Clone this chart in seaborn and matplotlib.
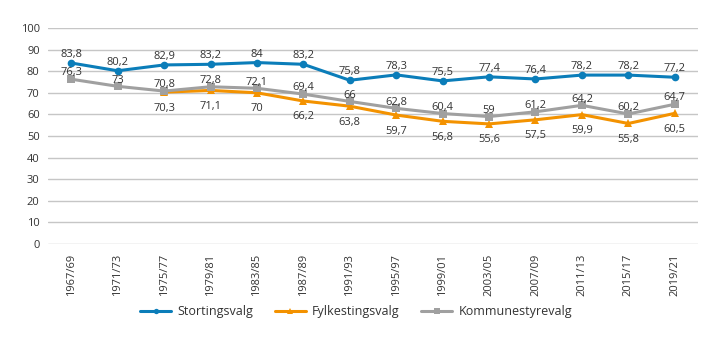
import numpy as np
import pandas as pd
import matplotlib
matplotlib.use("Agg")
import matplotlib.pyplot as plt
import seaborn as sns

periods = ["1967/69", "1971/73", "1975/77", "1979/81", "1983/85", "1987/89", "1991/93",
           "1995/97", "1999/01", "2003/05", "2007/09", "2011/13", "2015/17", "2019/21"]
storting = [83.8, 80.2, 82.9, 83.2, 84, 83.2, 75.8, 78.3, 75.5, 77.4, 76.4, 78.2, 78.2, 77.2]
fylke = [np.nan, np.nan, 70.3, 71.1, 70, 66.2, 63.8, 59.7, 56.8, 55.6, 57.5, 59.9, 55.8, 60.5]
kommune = [76.3, 73, 70.8, 72.8, 72.1, 69.4, 66, 62.8, 60.4, 59, 61.2, 64.2, 60.2, 64.7]

series_names = ["Stortingsvalg", "Fylkestingsvalg", "Kommunestyrevalg"]
colors = ["#0b7db9", "#f39200", "#a0a0a0"]
markers = ["o", "^", "s"]

sns.set_theme(style="white")
plt.rcParams["font.family"] = ["Open Sans", "DejaVu Sans"]

df = pd.DataFrame({"x": np.arange(len(periods)),
                   "Stortingsvalg": storting,
                   "Fylkestingsvalg": fylke,
                   "Kommunestyrevalg": kommune})
long = df.melt(id_vars="x", var_name="serie", value_name="val").dropna()

fig = plt.figure(figsize=(7.19, 3.41), dpi=100)
ax = fig.add_axes([48 / 719, 1 - 244 / 341, 650 / 719, 216 / 341])

sns.lineplot(data=long, x="x", y="val", hue="serie", style="serie",
             hue_order=series_names, style_order=series_names,
             palette=dict(zip(series_names, colors)),
             markers=dict(zip(series_names, markers)), dashes=False,
             linewidth=2.2, markersize=5.5, markeredgewidth=0, ax=ax)

txt_color = "#333333"
fs = 8


def fmt(v):
    return f"{v:g}".replace(".", ",")


for i, v in enumerate(storting):
    ax.annotate(fmt(v), (i, v), xytext=(0, 6), textcoords="offset points",
                ha="center", va="center", fontsize=fs, color=txt_color)
for i, v in enumerate(kommune):
    ax.annotate(fmt(v), (i, v), xytext=(0, 4.5), textcoords="offset points",
                ha="center", va="center", fontsize=fs, color=txt_color)
for i, v in enumerate(fylke):
    if np.isnan(v):
        continue
    ax.annotate(fmt(v), (i, v), xytext=(0, -11.5), textcoords="offset points",
                ha="center", va="center", fontsize=fs, color=txt_color)

ax.set_xlim(-0.5, len(periods) - 0.5)
ax.set_ylim(0, 100)
ax.set_yticks(range(0, 101, 10))
ax.set_xticks(range(len(periods)))
ax.set_xticklabels(periods, rotation=90, fontsize=fs, color=txt_color)
ax.tick_params(axis="y", labelsize=fs, labelcolor=txt_color, length=0, pad=6)
ax.tick_params(axis="x", length=0, pad=7)
ax.grid(axis="y", color="#c6c6c6", linewidth=1)
ax.set_axisbelow(True)
for s in ax.spines.values():
    s.set_visible(False)
ax.set_xlabel("")
ax.set_ylabel("")

handles, labels = ax.get_legend_handles_labels()
ax.legend_.remove()
fig.legend(handles, labels, loc="center", bbox_to_anchor=(356 / 719, 1 - 312 / 341), ncol=3,
           frameon=False, fontsize=9, handlelength=2.5, columnspacing=1.7,
           handletextpad=0.5, markerscale=0.7, labelcolor=txt_color)

fig.savefig("out.png", dpi=100)
